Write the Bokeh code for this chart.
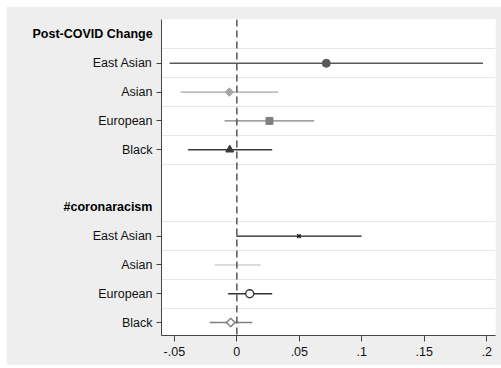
from bokeh.plotting import figure
from bokeh.models import ColumnDataSource, Range1d, FixedTicker, Span, LinearAxis
from bokeh.embed import file_html
from bokeh.resources import INLINE

# ---- data ----
groups = ["Post-COVID Change", "#coronaracism"]
row_labels = ["East Asian", "Asian", "European", "Black"]
post_est = [0.0716, -0.0060, 0.0261, -0.0057]
post_lo = [-0.0538, -0.0450, -0.0098, -0.0390]
post_hi = [0.1970, 0.0331, 0.0619, 0.0283]
cr_est = [0.0497, 0.0006, 0.0103, -0.0049]
cr_lo = [-0.0005, -0.0177, -0.0070, -0.0217]
cr_hi = [0.0998, 0.0190, 0.0283, 0.0124]
x_ticks = [-0.05, 0.0, 0.05, 0.1, 0.15, 0.2]
x_tick_labels = ["-.05", "0", ".05", ".1", ".15", ".2"]

# styles
post_colors = ["#595959", "#A6A6A6", "#808080", "#3A3A3A"]
post_markers = ["circle", "square", "square", "triangle"]
post_angles = [0.0, 0.7854, 0.0, 0.0]
post_sizes = [8, 6, 7, 8]
cr_colors = ["#1A1A1A", "#CFCFCF", "#333333", "#7F7F7F"]
cr_markers = ["x", "dot", "circle", "square"]
cr_angles = [0.0, 0.0, 0.0, 0.7854]
cr_sizes = [5, 3, 8, 6]
header_standoffs = [-463, -432]   # pull header labels back to the left margin

FONT = "Liberation Sans"

header_rows = [0, 6]
post_rows = [1, 2, 3, 4]
cr_rows = [7, 8, 9, 10]

p = figure(width=495, height=359, output_backend="svg", toolbar_location=None,
           x_range=Range1d(-0.0603, 0.207), y_range=Range1d(10.45, -0.52),
           min_border_left=155, min_border_right=6, min_border_top=13, min_border_bottom=30,
           margin=(6, 0, 3, 6))
p.background_fill_color = "white"
p.border_fill_color = "#EEEEEE"
p.outline_line_color = None

# grids
p.xgrid.visible = False
p.ygrid.ticker = FixedTicker(ticks=[0.5, 1.5, 2.5, 3.5, 4.5, 6.5, 7.5, 8.5, 9.5])
p.ygrid.grid_line_color = "#E6E6E6"
p.ygrid.grid_line_width = 1

# axes
ax = p.xaxis[0]
ax.ticker = FixedTicker(ticks=x_ticks)
ax.major_label_overrides = {t: l for t, l in zip(x_ticks, x_tick_labels)}
ax.minor_tick_line_color = None
ax.major_tick_out = 6
ax.major_tick_in = 0
ax.axis_line_color = "#444444"
ax.major_tick_line_color = "#444444"
ax.major_label_text_font = FONT
ax.major_label_text_font_size = "12.5px"
ax.major_label_text_color = "#111111"
ax.major_label_standoff = 5

ay = p.yaxis[0]
ay.ticker = FixedTicker(ticks=post_rows + cr_rows)
ay.major_label_overrides = {r: l for r, l in zip(post_rows + cr_rows, row_labels + row_labels)}
ay.minor_tick_line_color = None
ay.major_tick_out = 5
ay.major_tick_in = 0
ay.axis_line_color = "#444444"
ay.major_tick_line_color = "#444444"
ay.major_label_text_font = FONT
ay.major_label_text_font_size = "12.5px"
ay.major_label_text_color = "#111111"
ay.major_label_standoff = 4

# group header axes (bold labels, no ticks)
for g, r, so in zip(groups, header_rows, header_standoffs):
    hdr = LinearAxis(ticker=FixedTicker(ticks=[r]),
                     major_label_overrides={r: g},
                     axis_line_color=None, major_tick_line_color=None,
                     minor_tick_line_color=None, major_tick_out=0, major_tick_in=0,
                     major_label_standoff=so,
                     major_label_text_font=FONT, major_label_text_font_size="12.5px",
                     major_label_text_font_style="bold", major_label_text_color="black")
    p.add_layout(hdr, "right")

# CI segments
seg = ColumnDataSource(dict(
    lo=post_lo + cr_lo, hi=post_hi + cr_hi, y=post_rows + cr_rows,
    c=post_colors + cr_colors))
p.segment(x0="lo", x1="hi", y0="y", y1="y", line_color="c", line_width=1.4, source=seg)

# zero line
p.add_layout(Span(location=0, dimension="height", line_color="#555555",
                  line_width=1.5, line_dash="7 4"))

# markers
post_src = ColumnDataSource(dict(x=post_est, y=post_rows, c=post_colors,
                                 m=post_markers, a=post_angles, s=post_sizes))
p.scatter(x="x", y="y", marker="m", angle="a", size="s", fill_color="c",
          line_color="c", source=post_src)

cr_fill = [None, "#CFCFCF", "white", "white"]
cr_src = ColumnDataSource(dict(x=cr_est, y=cr_rows, c=cr_colors, m=cr_markers,
                               a=cr_angles, s=cr_sizes, f=cr_fill))
p.scatter(x="x", y="y", marker="m", angle="a", size="s", fill_color="f",
          line_color="c", line_width=1.4, source=cr_src)

open("out.html", "w").write(file_html(p, INLINE))
